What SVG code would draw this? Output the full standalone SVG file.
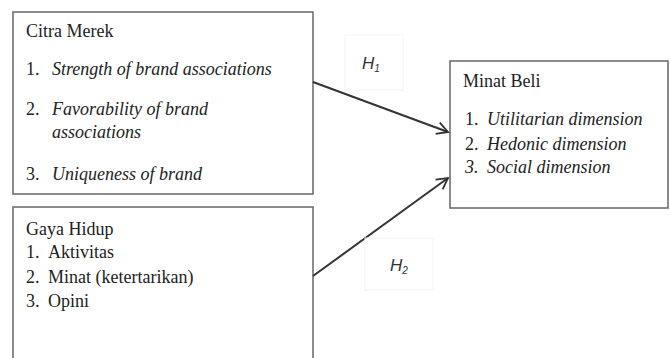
<svg xmlns="http://www.w3.org/2000/svg" width="670" height="358" viewBox="0 0 670 358">
<defs>
<style>
.box{fill:#fff;stroke:#666;stroke-width:1.5}
.hb{fill:none;stroke:#f4f4f4;stroke-width:1}
text.t{font-family:'Liberation Serif','Tinos','Times New Roman','DejaVu Serif',serif;font-size:18px;fill:#222}
.i{font-style:italic}
text.h{font-family:'Liberation Sans',Arial,sans-serif;font-style:italic;font-size:17px;fill:#333}
.hs{font-size:10px}
.c{stroke:#333;stroke-width:2;fill:none}
</style>
<marker id="arr" markerWidth="14" markerHeight="14" refX="12" refY="7" orient="auto" markerUnits="userSpaceOnUse">
<path d="M1,1 L12,7 L1,13" fill="none" stroke="#333" stroke-width="1.8"/>
</marker>
</defs>
<rect width="670" height="358" fill="#fff"/>
<g id="citra-merek">
<rect class="box" x="13" y="12" width="300" height="182"/>
<text class="t" x="26" y="37">Citra Merek</text>
<text class="t" x="26" y="75">1.</text>
<text class="t i" x="52" y="75">Strength of brand associations</text>
<text class="t" x="26" y="115">2.</text>
<text class="t i" x="52" y="115">Favorability of brand</text>
<text class="t i" x="52" y="138">associations</text>
<text class="t" x="26" y="180">3.</text>
<text class="t i" x="52" y="180">Uniqueness of brand</text>
</g>
<g id="gaya-hidup">
<path class="box" d="M13,360 L13,207 L313,207 L313,360"/>
<text class="t" x="26" y="235">Gaya Hidup</text>
<text class="t" x="26" y="258">1.</text>
<text class="t" x="48" y="258">Aktivitas</text>
<text class="t" x="26" y="283">2.</text>
<text class="t" x="48" y="283">Minat (ketertarikan)</text>
<text class="t" x="26" y="307">3.</text>
<text class="t" x="48" y="307">Opini</text>
</g>
<g id="minat-beli">
<rect class="box" x="450" y="61" width="218" height="147"/>
<text class="t" x="463" y="87">Minat Beli</text>
<text class="t" x="465" y="125">1.</text>
<text class="t i" x="487" y="125">Utilitarian dimension</text>
<text class="t" x="465" y="150">2.</text>
<text class="t i" x="487" y="150">Hedonic dimension</text>
<text class="t i" x="465" y="173">3.</text>
<text class="t i" x="487" y="173">Social dimension</text>
</g>
<g id="connectors">
<line class="c" x1="313" y1="82" x2="448" y2="132" marker-end="url(#arr)"/>
<line class="c" x1="313" y1="276" x2="448" y2="178" marker-end="url(#arr)"/>
</g>
<g id="label-h1">
<rect class="hb" x="345" y="35" width="58" height="55"/>
<text class="h" x="362" y="69">H<tspan class="hs" dy="3">1</tspan></text>
</g>
<g id="label-h2">
<rect class="hb" x="365" y="238" width="68" height="52"/>
<text class="h" x="390" y="271">H<tspan class="hs" dy="3">2</tspan></text>
</g>
</svg>
